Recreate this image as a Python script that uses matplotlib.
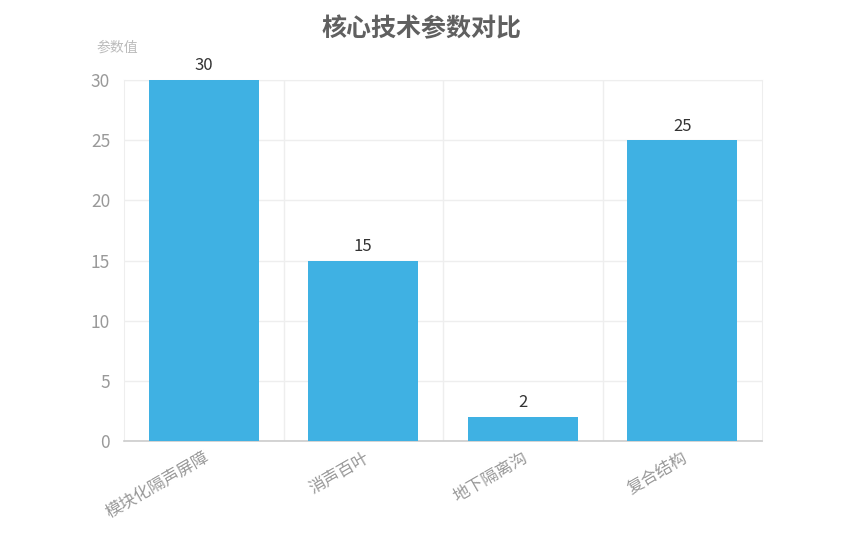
import matplotlib
matplotlib.use("Agg")
import matplotlib.pyplot as plt
import numpy as np

plt.rcParams['font.family'] = ['Noto Sans CJK SC', 'DejaVu Sans']

categories = ["模块化隔声屏障", "消声百叶", "地下隔离沟", "复合结构"]
values = [30, 15, 2, 25]
yticks = [0, 5, 10, 15, 20, 25, 30]
title = "核心技术参数对比"
ylabel = "参数值"

fig = plt.figure(figsize=(8.56, 5.49), dpi=100)
ax = fig.add_axes([124/856, 1-441/549, (762-124)/856, (441-80)/549])

x = np.arange(len(categories))
ax.bar(x, values, width=0.69, color="#3fb1e3", zorder=3)
for xi, v in zip(x, values):
    ax.annotate(str(v), (xi, v), xytext=(0, 4), textcoords="offset points",
                ha="center", va="bottom", fontsize=12, color="#333333")

ax.set_xlim(-0.5, len(categories) - 0.5)
ax.set_ylim(0, 30)
ax.set_yticks(yticks)
ax.set_yticklabels([str(t) for t in yticks])
ax.set_xticks(x)
ax.set_xticklabels(categories, rotation=30, ha="right", rotation_mode="anchor")
ax.tick_params(axis="y", length=0, colors="#999999", labelsize=12.5, pad=10)
ax.tick_params(axis="x", length=0, colors="#999999", labelsize=12, pad=6)

ax.grid(axis="y", color="#eeeeee", linewidth=1, zorder=0)
for b in np.arange(0.5, len(categories) - 0.5, 1.0):
    ax.axvline(b, color="#eeeeee", linewidth=1, zorder=0)

for s in ["top", "right", "left"]:
    ax.spines[s].set_color("#eeeeee")
ax.spines["bottom"].set_color("#cccccc")
ax.spines["bottom"].set_linewidth(1.2)

fig.text(421/856, 1-29/549, title, ha="center", va="center", fontsize=18,
         fontweight="bold", color="#606060")
fig.text(117/856, 1-48/549, ylabel, ha="center", va="center", fontsize=10,
         color="#bbbbbb")

fig.savefig("out.png", dpi=100, facecolor="white")
